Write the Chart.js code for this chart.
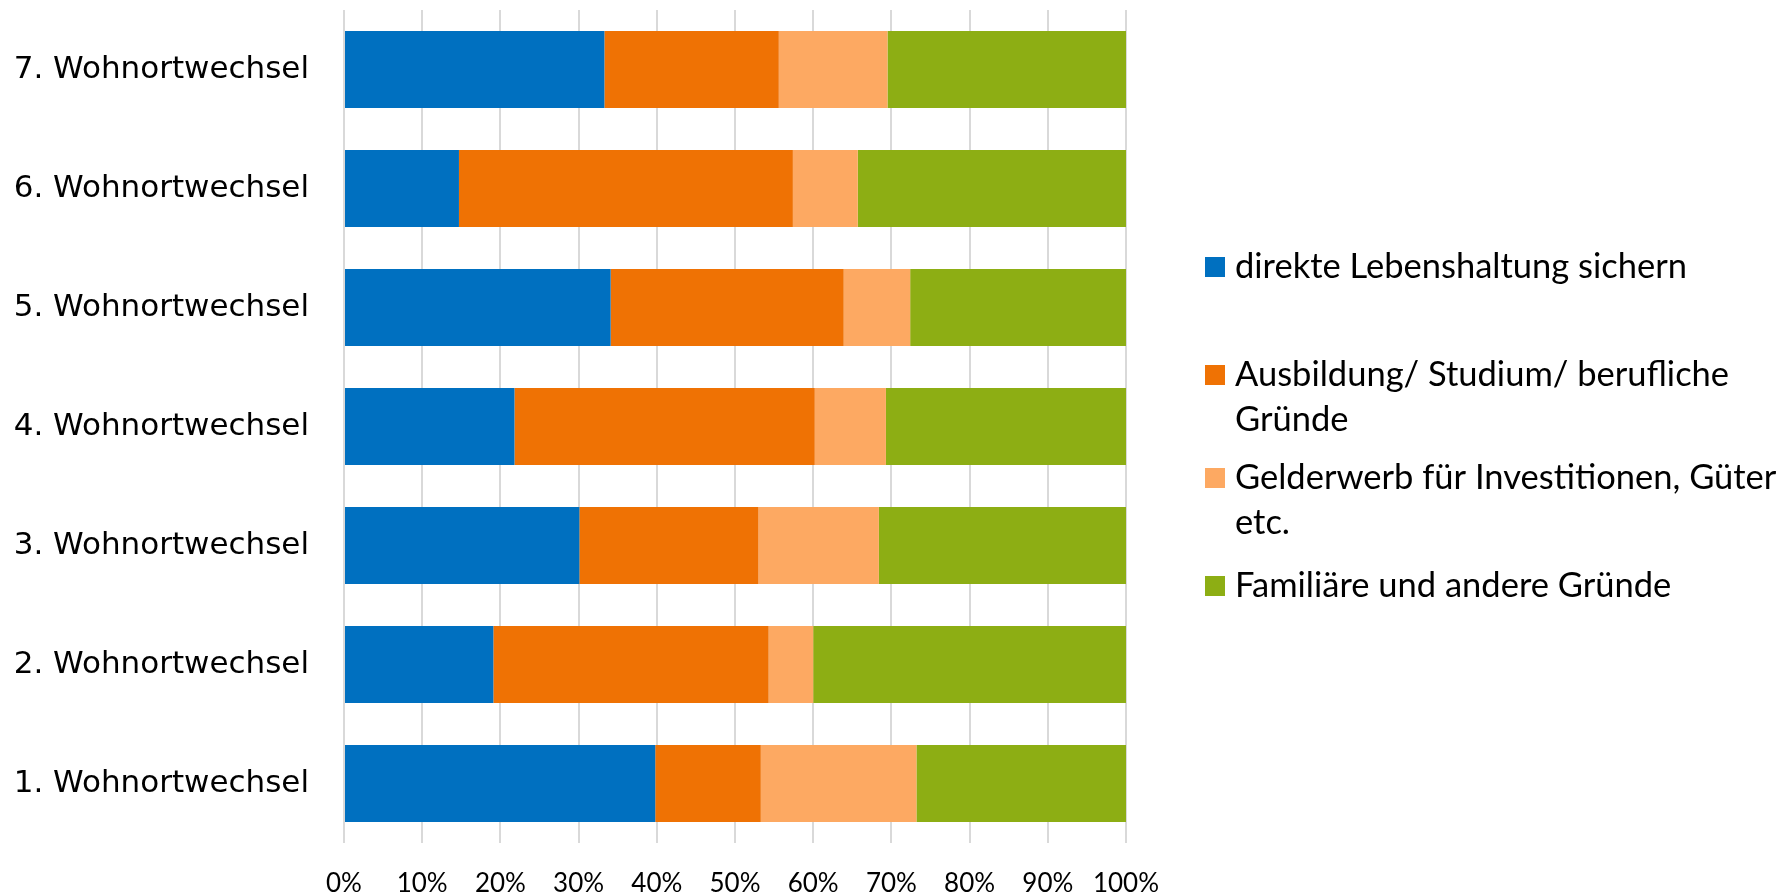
<!DOCTYPE html>
<html>
<head>
<meta charset="utf-8">
<script src="https://cdn.jsdelivr.net/npm/chart.js@4"></script>
<style>
  html, body { margin: 0; padding: 0; background: #ffffff; }
  #wrap { width: 1792px; height: 895px; }
</style>
</head>
<body>
<div id="wrap"><canvas id="reasonChart" width="1792" height="895"></canvas></div>
<script>
// Gründe für den Wohnortwechsel, Anteile in %
const categories = [
    '1. Wohnortwechsel', '2. Wohnortwechsel', '3. Wohnortwechsel', '4. Wohnortwechsel',
    '5. Wohnortwechsel', '6. Wohnortwechsel', '7. Wohnortwechsel'
];

const seriesNames = [
    'direkte Lebenshaltung sichern',
    'Ausbildung/ Studium/ berufliche Gründe',
    'Gelderwerb für Investitionen, Güter etc.',
    'Familiäre und andere Gründe'
];

const lebenshaltung = [39.8, 19.1, 30.1, 21.8, 34.1, 14.7, 33.3];
const ausbildung    = [13.5, 35.2, 22.9, 38.4, 29.8, 42.7, 22.3];
const gelderwerb    = [19.9,  5.7, 15.4,  9.1,  8.5,  8.3, 13.9];
const familiaer     = [26.8, 40.0, 31.6, 30.7, 27.6, 34.3, 30.5];

const xTicks = [0, 10, 20, 30, 40, 50, 60, 70, 80, 90, 100];

const colors = ['#0070c0', '#ef7204', '#fda962', '#8dae14'];

// legend lines (wrapped like in the original)
const legendLines = [
    ['direkte Lebenshaltung sichern'],
    ['Ausbildung/ Studium/ berufliche', 'Gründe'],
    ['Gelderwerb für Investitionen, Güter', 'etc.'],
    ['Familiäre und andere Gründe']
];

// custom legend on the right side
const sideLegend = {
    id: 'sideLegend',
    afterDraw(chart) {
        const ctx = chart.ctx;
        const firstLineY = [267, 375, 478, 586];
        const lineHeight = 45;
        ctx.save();
        ctx.font = '34.5px Lato';
        ctx.textBaseline = 'middle';
        ctx.textAlign = 'left';
        legendLines.forEach((lines, i) => {
            const y = firstLineY[i];
            ctx.fillStyle = colors[i];
            ctx.fillRect(1205, y - 10, 20, 20);
            ctx.fillStyle = '#000000';
            lines.forEach((line, j) => {
                ctx.fillText(line, 1235, y + j * lineHeight);
            });
        });
        ctx.restore();
    }
};

const datasetValues = [lebenshaltung, ausbildung, gelderwerb, familiaer];

const config = {
    type: 'bar',
    data: {
        labels: categories,
        datasets: seriesNames.map((name, i) => ({
            label: name,
            data: datasetValues[i],
            backgroundColor: colors[i],
            borderWidth: 0,
            categoryPercentage: 1,
            barPercentage: 0.647
        }))
    },
    options: {
        indexAxis: 'y',
        responsive: false,
        animation: false,
        layout: {
            padding: { top: 10, right: 666, left: 0, bottom: 0 }
        },
        plugins: {
            legend: { display: false },
            tooltip: { enabled: true }
        },
        scales: {
            x: {
                stacked: true,
                min: 0,
                max: 100,
                afterBuildTicks: (scale) => {
                    scale.ticks = xTicks.map(v => ({ value: v }));
                },
                afterFit: (scale) => {
                    scale.height = 52;
                },
                grid: {
                    color: '#d9d9d9',
                    lineWidth: 2,
                    drawTicks: false
                },
                border: { display: false },
                ticks: {
                    padding: 25,
                    color: '#000000',
                    font: { family: 'Lato', size: 26 },
                    callback: (v) => v + '%'
                }
            },
            y: {
                stacked: true,
                reverse: true,
                afterFit: (scale) => {
                    scale.width = 344;
                },
                grid: { display: false, drawTicks: true, tickLength: 35 },
                border: { display: false },
                ticks: {
                    padding: 0,
                    color: '#000000',
                    font: { family: 'DejaVu Sans', size: 31, lineHeight: 0.5 }
                }
            }
        }
    },
    plugins: [sideLegend]
};

if (typeof Chart !== 'undefined') {
    window.reasonChart = new Chart(document.getElementById('reasonChart'), config);
} else {
    console.error('Chart.js not available');
}
</script>
</body>
</html>
